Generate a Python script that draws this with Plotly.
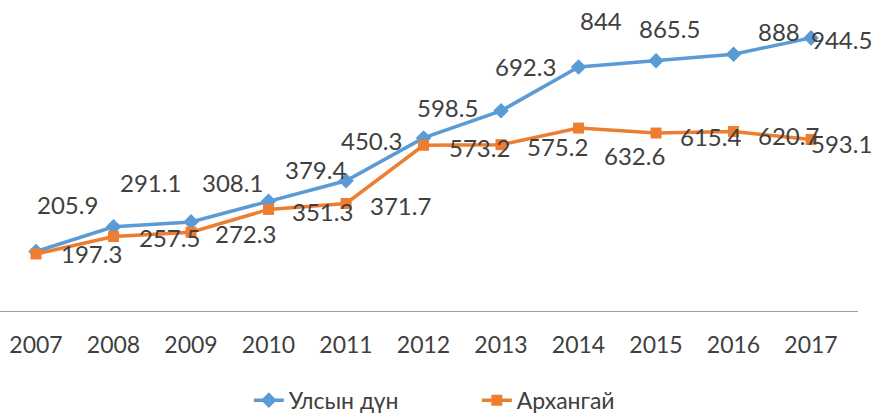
import plotly.graph_objects as go

years = [2007, 2008, 2009, 2010, 2011, 2012, 2013, 2014, 2015, 2016, 2017]
national = [205.9, 291.1, 308.1, 379.4, 450.3, 598.5, 692.3, 844, 865.5, 888, 944.5]
arkhangai = [197.3, 257.5, 272.3, 351.3, 371.7, 573.2, 575.2, 632.6, 615.4, 620.7, 593.1]
series_names = ["Улсын дүн", "Архангай"]

BLUE = "#5B9BD5"
ORANGE = "#ED7D31"
TXT = "#404040"
FONT = "Lato, 'Open Sans', sans-serif"
FS = 23
LABEL_FS = 24

# label placement offsets (pixels): (dx to label left edge, dy of label centre, +down)
blue_off = [(0, -47), (5, -44), (10, -39), (15, -32), (-6, -40), (-8, -30),
            (-7, -44), (0, -46), (-18, -32), (23, -23), (-1, 2)]
orange_off = [(24, 0), (24, 1), (23, 1), (22, 2), (23, 2), (24, 2),
              (25, 2), (24, 27), (23, 3), (23, 4), (-1, 4)]

fig = go.Figure()
fig.add_trace(go.Scatter(
    x=years, y=national, name=series_names[0], mode="lines+markers",
    line=dict(color=BLUE, width=3.5),
    marker=dict(symbol="diamond", size=12, color=BLUE),
))
fig.add_trace(go.Scatter(
    x=years, y=arkhangai, name=series_names[1], mode="lines+markers",
    line=dict(color=ORANGE, width=3.5),
    marker=dict(symbol="square", size=11, color=ORANGE),
))

annotations = []
for vals, offs in ((national, blue_off), (arkhangai, orange_off)):
    for x, v, (dx, dy) in zip(years, vals, offs):
        annotations.append(dict(
            x=x, y=v, xref="x", yref="y", text=f"{v:g}", showarrow=False,
            xanchor="left", yanchor="middle", xshift=dx - 1, yshift=-dy,
            font=dict(family=FONT, size=LABEL_FS, color=TXT),
        ))

fig.update_layout(
    width=873, height=413,
    margin=dict(l=0, r=15, t=10, b=102),
    paper_bgcolor="white", plot_bgcolor="white",
    showlegend=True,
    legend=dict(orientation="h", x=0.29, xanchor="left", y=0.031, yref="container",
                yanchor="middle", font=dict(family=FONT, size=FS, color=TXT),
                entrywidth=183, entrywidthmode="pixels"),
    annotations=annotations,
    font=dict(family=FONT, size=FS, color=TXT),
)
fig.update_xaxes(
    range=[2006.535, 2017.606], tickvals=years, ticktext=[str(y) for y in years],
    showgrid=False, zeroline=False, showline=True, linecolor="#9e9e9e", linewidth=1.3,
    ticks="", ticklabelstandoff=13,
    tickfont=dict(family=FONT, size=FS, color=TXT),
)
fig.update_yaxes(range=[0, 1041], visible=False, showgrid=False, zeroline=False)

fig.write_html("out.html", config={"displayModeBar": False},
               post_script="document.body.style.margin='0';document.body.style.overflow='hidden';")
